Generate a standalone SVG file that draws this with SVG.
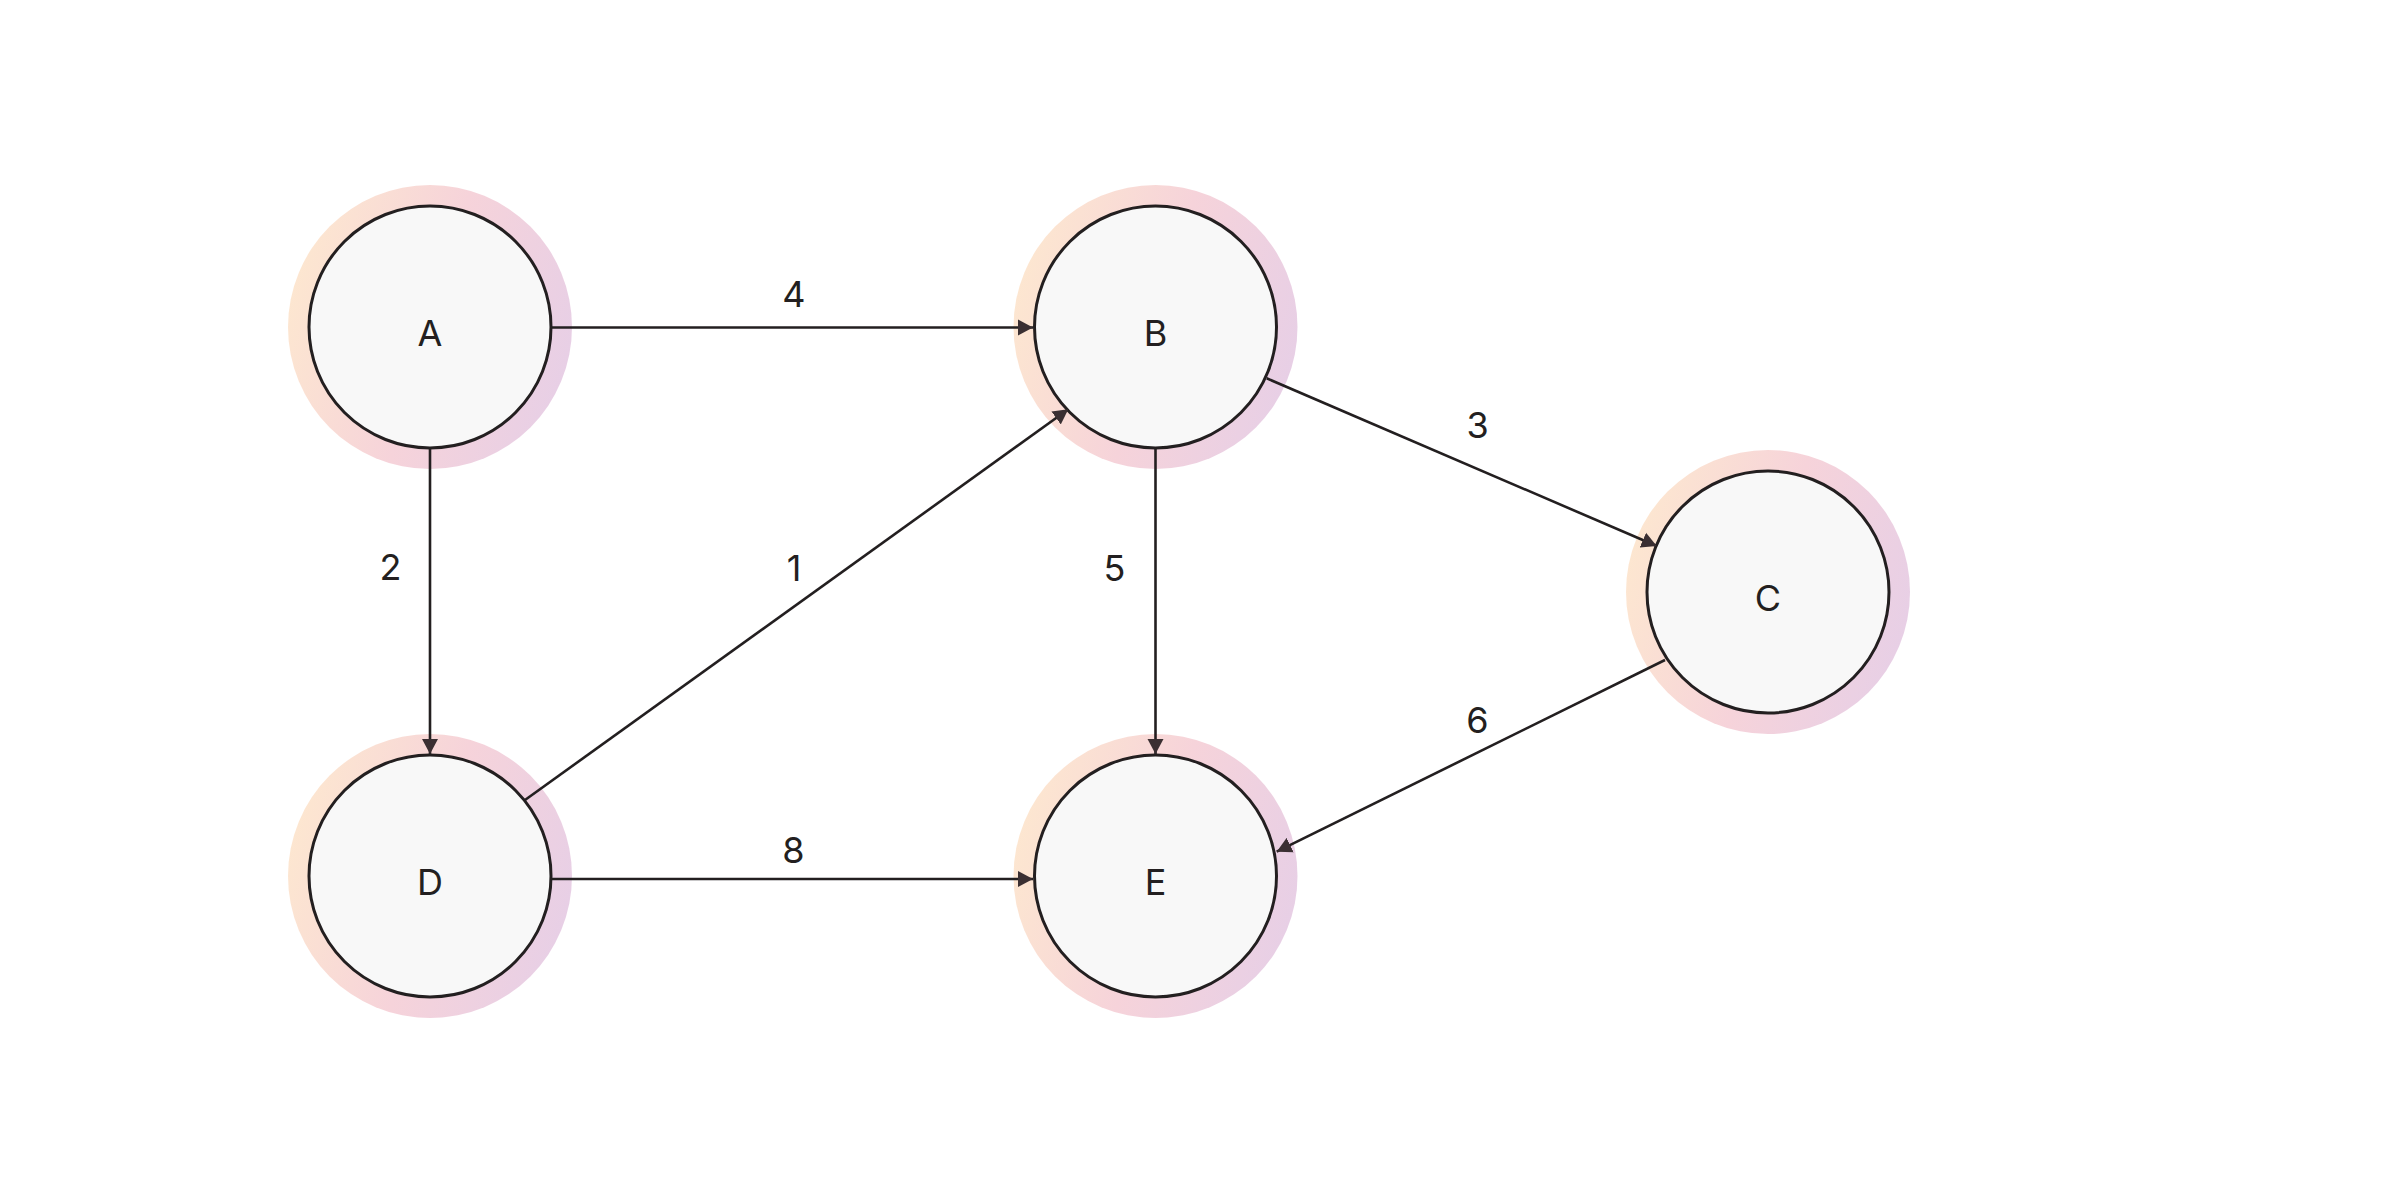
<svg xmlns="http://www.w3.org/2000/svg" width="2400" height="1200" viewBox="0 0 2400 1200">
  <defs>
    <linearGradient id="ring" x1="0" y1="0.35" x2="1" y2="0.65">
      <stop offset="0" stop-color="#fde7d0"/>
      <stop offset="0.5" stop-color="#f6d3da"/>
      <stop offset="1" stop-color="#e7cfe6"/>
    </linearGradient>
    <marker id="arrow" markerUnits="userSpaceOnUse" markerWidth="16" markerHeight="17" refX="15" refY="8.5" orient="auto">
      <path d="M0,0.5 L15,8.5 L0,16.5 z" fill="#3a2f32"/>
    </marker>
    <style>
      .halo { fill: url(#ring); }
      .core { fill: #f8f8f8; stroke: #231f20; stroke-width: 3; }
      .name { font-family: Inter, "Liberation Sans", sans-serif; font-size: 36px; fill: #231f20; text-anchor: middle; }
      .edge { stroke: #231f20; stroke-width: 2.6; fill: none; marker-end: url(#arrow); }
      .weight { font-family: Inter, "Liberation Sans", sans-serif; font-size: 36px; fill: #231f20; text-anchor: middle; }
    </style>
  </defs>
  <rect x="0" y="0" width="2400" height="1200" fill="#ffffff"/>

  <g id="node-A">
    <circle class="halo" cx="430" cy="327" r="142"/>
    <circle class="core" cx="430" cy="327" r="121"/>
    <text class="name" x="430" y="346">A</text>
  </g>
  <g id="node-B">
    <circle class="halo" cx="1155.5" cy="327" r="142"/>
    <circle class="core" cx="1155.5" cy="327" r="121"/>
    <text class="name" x="1155.5" y="346">B</text>
  </g>
  <g id="node-C">
    <circle class="halo" cx="1768" cy="592" r="142"/>
    <circle class="core" cx="1768" cy="592" r="121"/>
    <text class="name" x="1768" y="611">C</text>
  </g>
  <g id="node-D">
    <circle class="halo" cx="430" cy="876" r="142"/>
    <circle class="core" cx="430" cy="876" r="121"/>
    <text class="name" x="430" y="894.5">D</text>
  </g>
  <g id="node-E">
    <circle class="halo" cx="1155.5" cy="876" r="142"/>
    <circle class="core" cx="1155.5" cy="876" r="121"/>
    <text class="name" x="1155.5" y="894.5">E</text>
  </g>

  <g id="connectors">
    <line class="edge" x1="552" y1="327.5" x2="1033" y2="327.5"/>
    <line class="edge" x1="430" y1="448" x2="430" y2="754"/>
    <line class="edge" x1="1266.7" y1="378.3" x2="1656.7" y2="546"/>
    <line class="edge" x1="1155.5" y1="448" x2="1155.5" y2="754"/>
    <line class="edge" x1="525" y1="800" x2="1068.3" y2="409.3"/>
    <line class="edge" x1="551" y1="879" x2="1033" y2="879"/>
    <line class="edge" x1="1665" y1="660" x2="1276.7" y2="851.7"/>
    <text class="weight" x="794" y="306.5">4</text>
    <text class="weight" x="390.5" y="580">2</text>
    <text class="weight" x="794" y="580.5">1</text>
    <text class="weight" x="1114.5" y="580.5">5</text>
    <text class="weight" x="1477.5" y="438.3">3</text>
    <text class="weight" x="1477.5" y="733.3">6</text>
    <text class="weight" x="793.5" y="862.5">8</text>
  </g>
</svg>
